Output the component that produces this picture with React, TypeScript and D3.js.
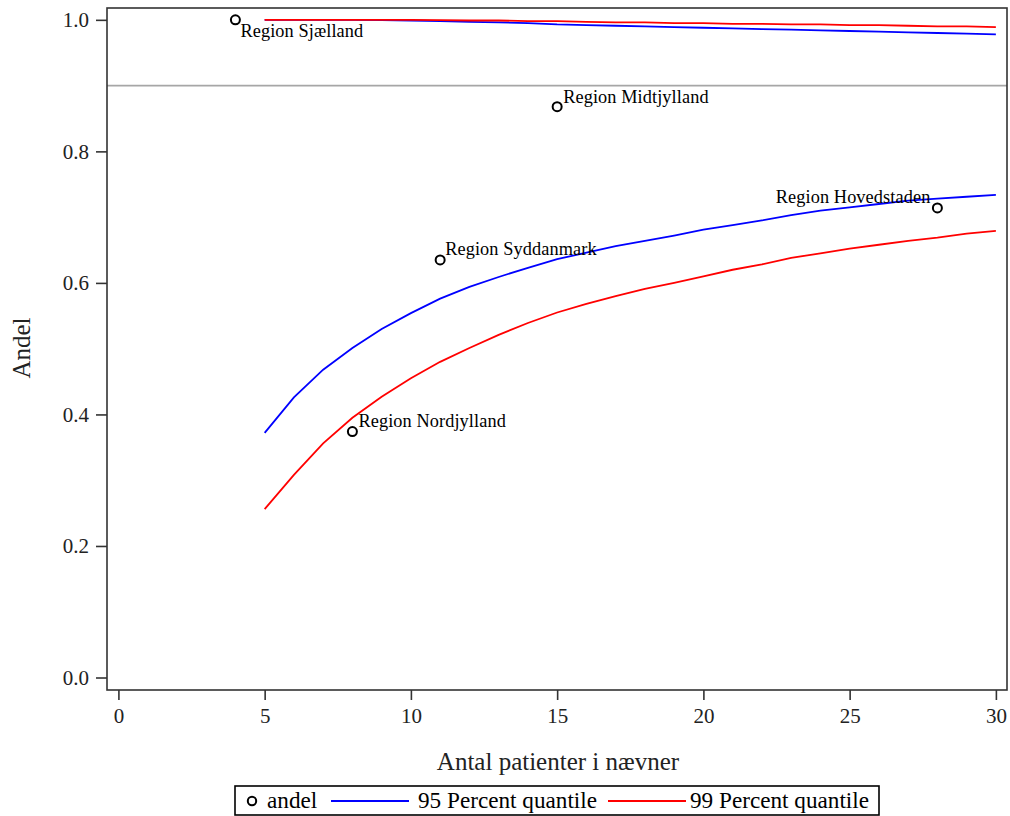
import { useEffect, useRef } from 'react';
import * as d3 from 'd3';

// antal patienter i nævner (x) for the funnel limits
const nValues = [5, 6, 7, 8, 9, 10, 11, 12, 13, 14, 15, 16, 17, 18, 19, 20, 21, 22, 23, 24, 25, 26, 27, 28, 29, 30];

const lower95 = [
  0.372, 0.426, 0.468, 0.501, 0.53, 0.554, 0.576, 0.594, 0.609, 0.623, 0.636, 0.646, 0.656,
  0.664, 0.672, 0.681, 0.688, 0.695, 0.703, 0.71, 0.715, 0.72, 0.725, 0.728, 0.731, 0.734,
];
const upper95 = [
  1.0, 1.0, 1.0, 1.0, 0.9995, 0.999, 0.998, 0.997, 0.996, 0.995, 0.993, 0.992, 0.991,
  0.99, 0.989, 0.988, 0.987, 0.986, 0.985, 0.984, 0.983, 0.982, 0.981, 0.98, 0.979, 0.978,
];
const lower99 = [
  0.256, 0.308, 0.356, 0.395, 0.427, 0.455, 0.48, 0.501, 0.521, 0.539, 0.555, 0.568, 0.58,
  0.591, 0.6, 0.61, 0.62, 0.628, 0.638, 0.645, 0.652, 0.658, 0.664, 0.669, 0.675, 0.679,
];
const upper99 = [
  1.0, 1.0, 1.0, 1.0, 1.0, 1.0, 0.9995, 0.999, 0.999, 0.998, 0.998, 0.997, 0.996,
  0.996, 0.995, 0.995, 0.994, 0.994, 0.993, 0.993, 0.992, 0.992, 0.991, 0.99, 0.99, 0.989,
];

const regions = ['Region Sjælland', 'Region Midtjylland', 'Region Syddanmark', 'Region Nordjylland', 'Region Hovedstaden'];
const regionN = [4, 15, 11, 8, 28];
const regionAndel = [1.0, 0.868, 0.635, 0.374, 0.714];

const targetLevel = 0.9;
const xTicks = [0, 5, 10, 15, 20, 25, 30];
const yTicks = [0, 0.2, 0.4, 0.6, 0.8, 1.0];

const FONT = '"Liberation Serif", "Times New Roman", serif';

export default function App() {
  const svgRef = useRef<SVGSVGElement | null>(null);

  useEffect(() => {
    const svgEl = svgRef.current;
    if (!svgEl) return undefined;
    const svg = d3.select(svgEl);
    svg.selectAll('*').remove();

    const left = 107;
    const right = 1007;
    const top = 8;
    const bottom = 690;

    const x = d3.scaleLinear().domain([-0.39, 30.38]).range([left, right]);
    const y = d3.scaleLinear().domain([-0.019, 1.018]).range([bottom, top]);

    svg.append('rect').attr('width', 1010).attr('height', 816).attr('fill', '#fff');

    // reference level
    svg.append('line')
      .attr('x1', left).attr('x2', right)
      .attr('y1', y(targetLevel)).attr('y2', y(targetLevel))
      .attr('stroke', '#a6a6a6').attr('stroke-width', 1.6);

    const line = (vals: number[]) =>
      d3.line<number>()
        .x((_, i) => x(nValues[i]))
        .y(d => y(d))(vals);

    const series = [
      { vals: upper95, color: '#0000ff' },
      { vals: lower95, color: '#0000ff' },
      { vals: upper99, color: '#ff0000' },
      { vals: lower99, color: '#ff0000' },
    ];
    series.forEach(s => {
      svg.append('path')
        .attr('d', line(s.vals))
        .attr('fill', 'none')
        .attr('stroke', s.color)
        .attr('stroke-width', 1.8);
    });

    // points + labels
    const labelPos = [
      { dx: 5, dy: 17, anchor: 'start' },
      { dx: 6, dy: -4, anchor: 'start' },
      { dx: 5, dy: -5, anchor: 'start' },
      { dx: 6, dy: -5, anchor: 'start' },
      { dx: -7, dy: -5, anchor: 'end' },
    ];
    regions.forEach((name, i) => {
      const cx = x(regionN[i]);
      const cy = y(regionAndel[i]);
      svg.append('circle')
        .attr('cx', cx).attr('cy', cy).attr('r', 4.5)
        .attr('fill', 'none').attr('stroke', '#000').attr('stroke-width', 2);
      svg.append('text')
        .attr('x', cx + labelPos[i].dx)
        .attr('y', cy + labelPos[i].dy)
        .attr('text-anchor', labelPos[i].anchor)
        .attr('font-family', FONT)
        .attr('font-size', 18.3)
        .attr('letter-spacing', 0.1)
        .attr('fill', '#000')
        .text(name);
    });

    // frame
    svg.append('rect')
      .attr('x', left).attr('y', top)
      .attr('width', right - left).attr('height', bottom - top)
      .attr('fill', 'none').attr('stroke', '#333').attr('stroke-width', 1.6);

    // axes
    const xAxis = svg.append('g')
      .attr('transform', `translate(0,${bottom})`)
      .call(d3.axisBottom(x).tickValues(xTicks).tickSize(10).tickSizeOuter(0).tickPadding(8).tickFormat(d3.format('d')));
    const yAxis = svg.append('g')
      .attr('transform', `translate(${left},0)`)
      .call(d3.axisLeft(y).tickValues(yTicks).tickSize(11).tickSizeOuter(0).tickPadding(7).tickFormat(d3.format('.1f')));
    [xAxis, yAxis].forEach(ax => {
      ax.attr('font-family', FONT).attr('font-size', 21);
      ax.select('.domain').remove();
      ax.selectAll('line').attr('stroke', '#333').attr('stroke-width', 1.6);
      ax.selectAll('text')
        .attr('font-family', FONT)
        .attr('font-size', 21)
        .attr('fill', '#222');
    });

    // axis titles
    svg.append('text')
      .attr('x', 558).attr('y', 770)
      .attr('text-anchor', 'middle')
      .attr('font-family', FONT).attr('font-size', 25)
      .attr('fill', '#222')
      .text('Antal patienter i nævner');
    svg.append('text')
      .attr('transform', 'translate(30,348) rotate(-90)')
      .attr('text-anchor', 'middle')
      .attr('font-family', FONT).attr('font-size', 25)
      .attr('fill', '#222')
      .text('Andel');

    // legend
    const lg = svg.append('g');
    lg.append('rect')
      .attr('x', 235).attr('y', 786).attr('width', 644).attr('height', 29)
      .attr('fill', '#fff').attr('stroke', '#000').attr('stroke-width', 1.6);
    lg.append('circle')
      .attr('cx', 252).attr('cy', 801).attr('r', 4.2)
      .attr('fill', 'none').attr('stroke', '#000').attr('stroke-width', 2);
    const legendItems = [
      { x: 267, label: 'andel' },
      { x: 418, label: '95 Percent quantile', color: '#0000ff', lx: 331 },
      { x: 690, label: '99 Percent quantile', color: '#ff0000', lx: 608 },
    ];
    legendItems.forEach(item => {
      if (item.color) {
        lg.append('line')
          .attr('x1', item.lx).attr('x2', (item.lx as number) + 78)
          .attr('y1', 801).attr('y2', 801)
          .attr('stroke', item.color).attr('stroke-width', 1.8);
      }
      lg.append('text')
        .attr('x', item.x).attr('y', 808)
        .attr('font-family', FONT).attr('font-size', 23.2)
        .attr('fill', '#000')
        .text(item.label);
    });

    return () => {
      svg.selectAll('*').remove();
    };
  }, []);

  return (
    <svg
      ref={svgRef}
      width={1010}
      height={816}
      style={{ position: 'absolute', left: 0, top: 0, display: 'block' }}
    />
  );
}
